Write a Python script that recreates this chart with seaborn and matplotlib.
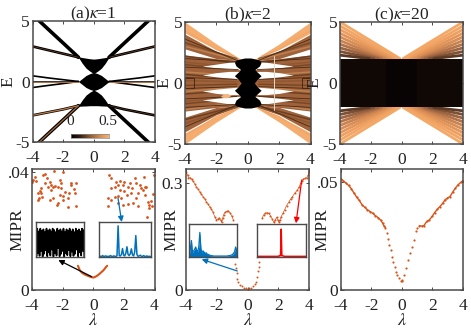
import matplotlib
matplotlib.use("Agg")
import matplotlib.pyplot as plt
import numpy as np
import seaborn as sns
from matplotlib.colors import LinearSegmentedColormap

# ── data ─────────────────────────────────────────────────────────────────────
LAM_TICKS = [-4, -2, 0, 2, 4]
E_TICKS = [-5, 0, 5]

# (a) kappa=1, bands on the right half, mirrored for the left one
A_KNOTS = [1, 2, 3, 4]
A_OUTER_UP = [2.0, 3.18, 4.35, 5.53]
A_OUTER_DN = [-2.0, -3.18, -4.35, -5.53]
A_SIDE_UP = [2.0, 2.3, 2.6, 2.9]
A_SIDE_DN = [-2.0, -2.3, -2.55, -2.8]
A_MID_UP = [0.0, 0.15, 0.3, 0.47]
A_MID_0 = [0.0, 0.0, 0.0, 0.0]
A_MID_DN = [0.0, -0.17, -0.33, -0.5]
A_BLOB_LAM = [0.0, 0.25, 0.5, 0.75, 1.0]
A_TOP_HI = [1.85, 1.88, 1.93, 1.98, 2.05]
A_TOP_LO = [0.65, 0.85, 1.1, 1.5, 2.0]
A_MID_HI = [0.75, 0.65, 0.5, 0.25, 0.0]
A_BOT_HI = [-0.7, -0.88, -1.12, -1.52, -2.0]
A_BOT_LO = [-2.0, -2.0, -2.02, -2.03, -2.05]

# (b) kappa=2
B_KNOTS = [0.5, 1, 2, 3, 4]
B_LIGHT_HI = [2.0, 2.4, 3.2, 4.1, 5.0]
B_LIGHT_LO = [1.9, 2.2, 2.75, 3.4, 4.1]
B_BROWN_HI = [1.9, 2.15, 2.6, 3.3, 4.0]
B_BROWN_LO = [1.8, 1.9, 2.0, 2.4, 2.8]
B_MAIN_HI = [1.8, 1.9, 2.0, 2.15, 2.3]
B_LENS_LAM = [0.7, 1.2, 2.0, 2.9]
B_LENS1_HI = [1.72, 1.7, 1.55, 1.38]
B_LENS1_LO = [1.1, 1.15, 1.25, 1.38]
B_LENS2_HI = [0.95, 0.95, 0.85, 0.65]
B_LENS2_LO = [0.35, 0.4, 0.5, 0.65]
B_CORE_E = [0.0, 0.3, 0.6, 0.9, 1.1, 1.4, 1.7, 1.9, 2.05]
B_CORE_W = [0.42, 0.6, 0.85, 0.6, 0.45, 0.75, 0.85, 0.7, 0.2]
B_SHADE_FROM = [2.0, 1.9, 1.6, 1.3, 1.1, 0.6, 0.35, 0.1, -0.1, -0.35, -0.6, -1.1, -1.3, -1.6, -1.9, -2.0]
B_SHADE_ENDS = [3.3, 3.0, 2.2, 1.7, 1.5, 0.9, 0.7, 0.2, -0.2, -0.7, -0.9, -1.5, -1.7, -2.2, -3.0, -3.3]
B_SHADE_COLORS = ["#6f4222", "#c58a58", "#5f381c", "#8a5530"]
B_DARK_STARTS = [0.6, 0.6, 0.6, 0.7, 0.7, 0.7, 0.7, 0.7]
B_DARK_ENDS = [3.6, 2.0, 1.3, 0.45, -0.45, -1.3, -2.0, -3.6]
B_DARK_FROM = [1.8, 1.75, 1.1, 0.3, -0.3, -1.1, -1.75, -1.8]
B_BOX_LAM = [3.45, 4.0, 4.0, 3.45, 3.45]
B_BOX_E = [0.4, 0.4, -0.4, -0.4, 0.4]
B_STRIPE_LAM = [0.9, 2.0, 3.0, 3.95]
B_STRIPE_E = [2.2, 2.75, 3.55, 4.25]
B_PALE_X = [1.7, 1.7]
B_PALE_E = [-2.25, 2.25]
B_SPOT_LAM = [-1.75, -1.55, -1.3, -1.05]
B_SPOT_HI = [-1.1, -0.9, -0.85, -1.0]
B_SPOT_LO = [-1.1, -1.2, -1.2, -1.0]

# (c) kappa=20
C_BAND_LAM = [-4, 4]
C_CORE_LAM = [-1, 1]
C_FAN_ENDS = [5.0, 4.68, 4.38, 4.08, 3.78, 3.48, 3.18, 2.88, 2.58, 2.28]
C_FAN_STARTS = [0.1, 0.3, 0.5, 0.7, 0.9, 1.1, 1.3, 1.5, 1.8, 2.1]
C_FAN_COLORS = ["#f4a866", "#f2a564", "#ee9f60", "#e2965a", "#d98e55",
                "#c98250", "#b57448", "#9c6440", "#7d5034", "#5c3a26"]

# MIPR panels
A_LEFT_X = [-3.93, -4.0, -3.83, -3.72, -3.28, -3.13, -2.59, -1.98, -3.0, -2.85, -2.74, -2.52,
            -2.2, -2.09, -2.3, -1.43, -1.11, -1.28, -1.59, -1.22, -3.61, -3.39, -3.54, -3.33,
            -3.61, -2.85, -2.63, -2.3, -1.98, -1.65, -2.37, -1.65, -1.15, -3.17, -2.96, -2.63,
            -2.09, -1.87, -1.43, -3.5, -2.2, -1.98, -2.74, -3.39]
A_LEFT_Y = [.0373, .0367, .0384, .0370, .0390, .0393, .0403, .0401, .0379, .0367, .0356, .0354,
            .0373, .0362, .0350, .0362, .0362, .0342, .0328, .0328, .0328, .0328, .0311, .0316,
            .0305, .0305, .0311, .0294, .0305, .0311, .0288, .0280, .0286, .0362, .0350, .0350,
            .0345, .0333, .0356, .0336, .0322, .0318, .0338, .0345]
A_RIGHT_X = [1.02, 1.17, 1.5, 1.72, 2.04, 2.7, 3.3, 3.96, 1.17, 1.39, 1.61, 1.93, 2.26, 2.41,
             2.8, 3.13, 3.46, .96, 1.39, 1.61, 1.83, 2.22, 2.48, 2.91, 3.24, 3.41, .96, 1.61,
             2.26, 2.59, 2.91, 1.93, 3.57, 3.67, 3.85, 3.52, 3.89, 3.35, 2.76, 1.17, 3.67, 1.72,
             2.04, 3.05, 2.55, 3.75]
A_RIGHT_Y = [.0388, .0379, .0367, .0370, .0367, .0379, .0384, .0390, .0347, .0350, .0356, .0356,
             .0350, .0362, .0362, .0347, .0350, .0311, .0316, .0320, .0311, .0322, .0328, .0328,
             .0339, .0350, .0283, .0294, .0290, .0294, .0283, .0288, .0299, .0288, .0283, .0249,
             .0324, .0322, .0311, .0305, .0279, .0338, .0335, .0355, .0345, .0300]
A_DIP_X = [-1.0, -.95, -.89, -.8, -.7, -.57, -.45, -.3, -.15, 0, .15, .3, .42, .52, .65, .75, .85, .91]
A_DIP_Y = [.0082, .0076, .0068, .0062, .0057, .0053, .0050, .0047, .0044, .0042, .0045, .0050,
           .0055, .0060, .0066, .0072, .0079, .0082]

B_X = [-3.99, -3.9, -3.84, -3.73, -3.64, -3.55, -3.44, -3.33, -3.22, -3.11, -3.0, -2.89, -2.78,
       -2.68, -2.57, -2.46, -2.35, -2.24, -2.13, -2.02, -1.93, -1.84, -1.75, -1.69, -1.62, -1.56,
       -1.47, -1.36, -1.25, -1.14, -1.03, -.92, -.79, -.75, -.7, -.66, -.59, -.48, -.37, -.26,
       -.13, 0, .13, .26, .39, .5, .57, .64, .68, .72, .77, .94, 1.05, 1.16, 1.27, 1.38, 1.49,
       1.6, 1.71, 1.8, 1.89, 1.97, 2.04, 2.11, 2.19, 2.3, 2.41, 2.54, 2.7, 2.81, 2.92, 3.07,
       3.25, 3.36, 3.46, 3.57, 3.64, 3.75, 3.86, 3.95, 4.0]
B_Y = [.331, .323, .316, .316, .311, .306, .299, .290, .284, .276, .269, .262, .256, .248, .241,
       .234, .227, .218, .206, .197, .200, .203, .197, .190, .201, .211, .218, .221, .222, .217,
       .209, .197, .074, .061, .047, .031, .022, .014, .010, .007, .005, .004, .005, .007, .010,
       .016, .023, .037, .052, .066, .080, .201, .211, .216, .217, .216, .209, .200, .190, .197,
       .204, .197, .190, .197, .206, .215, .225, .237, .248, .256, .262, .272, .281, .290, .300,
       .307, .312, .314, .316, .323, .331]

C_X = [-4, -3.83, -3.65, -3.48, -3.3, -3.13, -2.95, -2.78, -2.6, -2.43, -2.25, -2.08, -1.9, -1.73,
       -1.55, -1.38, -1.25, -1.16, -1.07, -.98, -.9, -.81, -.72, -.63, -.55, -.46, -.37, -.28,
       -.15, -.04, 0, .04, .15, .28, .42, .55, .68, .81, .94, 1.03, 1.16, 1.31, 1.46, 1.64, 1.81,
       1.99, 2.16, 2.34, 2.51, 2.69, 2.84, 3.0, 3.17, 3.34, 3.52, 3.69, 3.87, 4.0]
C_Y = [.0513, .0504, .0493, .0482, .0467, .0447, .0428, .0413, .0393, .0382, .0370, .0362, .0354,
       .0343, .0334, .0322, .0308, .0296, .0288, .0262, .0236, .0208, .0185, .0154, .0131, .0108,
       .0085, .0069, .0054, .0043, .0042, .0046, .0069, .0100, .0139, .0169, .0200, .0231, .0270,
       .0285, .0297, .0294, .0297, .0316, .0323, .0339, .0357, .0373, .0385, .0400, .0416, .0424,
       .0431, .0451, .0470, .0485, .0496, .0504]

# inset spectra
INSET_BLACK_TOP = [.78, .82, .74, .82, .76, .8, .72, .82, .75, .8, .74, .82, .78, .72, .82, .76,
                   .8, .74, .82, .72, .8, .76, .82, .74, .8, .72, .82, .76, .8, .74, .82, .78]
INSET_BLACK_LOW = [.03, .12, .04, .18, .02, .1, .2, .03, .14, .05, .22, .02, .12, .05, .26, .03,
                   .1, .18, .02, .12, .06, .2, .03, .16, .04, .1, .22, .03, .14, .05, .18, .02]
INSET_BLUE_A = [.02, .03, .02, .05, .02, .03, .04, .02, .03, .02, .05, .03, .02, .04, .03, .02,
                .05, .9, .05, .04, .08, .25, .06, .04, .12, .3, .08, .05, .1, .24, .07, .04,
                .15, .62, .08, .03, .04, .06, .03, .02, .05, .03, .02, .04, .02, .03, .02, .02]
INSET_BLUE_B = [.05, .25, .5, .12, .18, .22, .3, .2, .16, .3, .75, .25, .12, .18, .14, .1, .12,
                .08, .07, .05, .04, .03, .03, .02, .02, .02, .02, .02, .02, .02, .02, .02, .02,
                .02, .02, .02, .02, .03, .03, .04, .05, .07, .1, .16, .3, .18]
INSET_RED = [.01, .01, .01, .01, .01, .01, .01, .01, .01, .01, .01, .01, .01, .01, .01, .01, .01,
             .01, .01, .01, .01, .01, .01, .01, .01, .01, .01, .01, .01, .01, .01, .01, .01, .01,
             .02, .02, .03, .03, .85, .03, .03, .02, .02, .01, .01, .01, .01, .01, .01, .01, .01,
             .01, .01, .01, .01, .01, .01, .01, .01, .01, .01, .01, .01, .01, .01, .01, .01, .01,
             .01, .01, .01, .01, .01, .01, .01, .01, .01]

CBAR_COLORS = ["#000000", "#3a2212", "#8c5a36", "#d08a50", "#f8b070"]

ORANGE = "#d95319"
BLUE = "#0072bd"
RED = "#ff0000"
FRAME = "#4a4a4a"
W, H = 471, 330

sns.set_theme(style="ticks")
plt.rcParams["font.family"] = ["Liberation Serif", "DejaVu Serif"]
plt.rcParams["mathtext.fontset"] = "stix"
plt.rcParams["axes.unicode_minus"] = False

fig = plt.figure(figsize=(W / 100, H / 100), dpi=100)


def px_axes(x0, y0, x1, y1):
    # axes from pixel box, y measured from the top of the image
    return fig.add_axes([x0 / W, 1 - y1 / H, (x1 - x0) / W, (y1 - y0) / H])


def line(ax, x, y, color, lw, **kw):
    sns.lineplot(x=list(x), y=list(y), ax=ax, color=color, linewidth=lw, sort=False,
                 estimator=None, legend=False, **kw)


def mirror(knots, vals):
    return [-k for k in knots[::-1]] + list(knots), list(vals[::-1]) + list(vals)


def style_axes(ax, ylim, yticks, yticklabels, ylabel, ylab_x, title=None, xlabel=None):
    ax.set_xlim(-4, 4)
    ax.set_ylim(*ylim)
    ax.set_xticks(LAM_TICKS)
    ax.set_xticklabels([str(t) for t in LAM_TICKS])
    ax.set_yticks(yticks)
    ax.set_yticklabels(yticklabels)
    ax.tick_params(direction="in", top=True, right=True, length=2.5, width=0.7, color=FRAME,
                   labelsize=12.5, labelcolor="#222222")
    ax.tick_params(axis="x", pad=5.5)
    ax.tick_params(axis="y", pad=2)
    for s in ax.spines.values():
        s.set_color(FRAME)
        s.set_linewidth(1.1)
        s.set_zorder(10)
    ax.set_ylabel(ylabel, fontsize=12.5, color="#222222")
    ax.yaxis.set_label_coords(ylab_x, 0.5)
    ax.set_xlabel(xlabel if xlabel else "", fontsize=13, color="#222222", labelpad=-1.5)
    if title:
        ax.set_title(title, fontsize=12.5, pad=2, color="#222222")


# ── (a) bands ────────────────────────────────────────────────────────────────
ax = px_axes(32.5, 21, 155, 142)
for vals, lw in [(A_OUTER_UP, 2.6), (A_OUTER_DN, 2.6), (A_SIDE_UP, 1.9), (A_SIDE_DN, 1.9),
                 (A_MID_UP, 1.2), (A_MID_0, 1.1), (A_MID_DN, 1.2)]:
    for sign in (1, -1):
        line(ax, [sign * k for k in A_KNOTS], vals, "black", lw)
# copper streaks along the band edges
for sign in (1, -1):
    line(ax, [sign * k for k in A_KNOTS], A_MID_0, "#b5733f", 0.7)
    line(ax, [sign * k for k in A_KNOTS], A_SIDE_UP, "#6a4026", 0.5)
line(ax, [-k for k in A_KNOTS], A_SIDE_DN, "#c07a45", 0.9)
line(ax, [-k for k in A_KNOTS], A_OUTER_DN, "#a5693d", 0.9)
line(ax, [k for k in A_KNOTS], A_SIDE_DN, "#5a3620", 0.5)
for hi, lo in [(A_TOP_HI, A_TOP_LO), (A_MID_HI, [-v for v in A_MID_HI]), (A_BOT_HI, A_BOT_LO)]:
    xs, his = mirror(A_BLOB_LAM, hi)
    _, los = mirror(A_BLOB_LAM, lo)
    ax.fill_between(xs, los, his, color="black", lw=0)
style_axes(ax, (-5, 5), E_TICKS, ["-5", "0", "5"], "E", -0.135, title=r"(a)$\kappa$=1")

cax = px_axes(71, 134, 109, 138)
cmap = LinearSegmentedColormap.from_list("band", CBAR_COLORS)
sns.heatmap(np.linspace(0, 1, 64)[None, :], ax=cax, cmap=cmap, cbar=False, xticklabels=False,
            yticklabels=False)
for s in cax.spines.values():
    s.set_visible(True)
    s.set_color("#888888")
    s.set_linewidth(0.5)
ax.text(-1.55, -3.28, "0", fontsize=11, ha="center", va="center", color="#222222")
ax.text(0.95, -3.28, "0.5", fontsize=11, ha="center", va="center", color="#222222")

# ── (b) bands ────────────────────────────────────────────────────────────────
ax = px_axes(185, 22, 310.5, 144)
BROWN = "#a0623a"
for hi, lo, col in [(B_LIGHT_HI, B_LIGHT_LO, "#f4ad6e"), (B_BROWN_HI, B_BROWN_LO, BROWN)]:
    xs, his = mirror(B_KNOTS, hi)
    _, los = mirror(B_KNOTS, lo)
    ax.fill_between(xs, los, his, color=col, lw=0)
    ax.fill_between(xs, [-v for v in his], [-v for v in los], color=col, lw=0)
xs, his = mirror(B_KNOTS, B_MAIN_HI)
ax.fill_between(xs, [-v for v in his], his, color=BROWN, lw=0)
for sign in (1, -1):
    for i, (a, b) in enumerate(zip(B_SHADE_FROM, B_SHADE_ENDS)):
        line(ax, [sign * 0.7, sign * 4], [a, b], B_SHADE_COLORS[i % 4], 1.1, alpha=0.8)
for hi, lo in [(B_LENS1_HI, B_LENS1_LO), (B_LENS2_HI, B_LENS2_LO)]:
    xs, his = mirror(B_LENS_LAM, hi)
    _, los = mirror(B_LENS_LAM, lo)
    ax.fill_between(xs, los, his, color="white", lw=0, zorder=3)
    ax.fill_between(xs, [-v for v in his], [-v for v in los], color="white", lw=0, zorder=3)
for sign in (1, -1):
    for s, a, b in zip(B_DARK_STARTS, B_DARK_FROM, B_DARK_ENDS):
        line(ax, [sign * s, sign * 4], [a, b], "#4a2a14", 0.6, zorder=4)
    line(ax, [sign * v for v in B_BOX_LAM], B_BOX_E, "#4a2a14", 0.7, zorder=4)
    line(ax, [sign * v for v in B_STRIPE_LAM], B_STRIPE_E, "#f2a566", 0.9, zorder=4)
    line(ax, [sign * v for v in B_STRIPE_LAM], [-v for v in B_STRIPE_E], "#f2a566", 0.9, zorder=4)
ax.fill_between(B_SPOT_LAM, B_SPOT_LO, B_SPOT_HI, color="#f4b57e", lw=0, zorder=4)
line(ax, B_PALE_X, B_PALE_E, "#e6d8c8", 0.7, zorder=4)
core_e = [-v for v in B_CORE_E[::-1]] + B_CORE_E[1:]
core_w = B_CORE_W[::-1] + B_CORE_W[1:]
ax.fill_betweenx(core_e, [-v for v in core_w], core_w, color="black", lw=0, zorder=5)
style_axes(ax, (-5, 5), E_TICKS, ["-5", "0", "5"], "E", -0.1, title=r"(b)$\kappa$=2")

# ── (c) bands ────────────────────────────────────────────────────────────────
ax = px_axes(340, 22, 463, 144)
for sign in (1, -1):
    for end, start, col in zip(C_FAN_ENDS, C_FAN_STARTS, C_FAN_COLORS):
        line(ax, [sign * start, sign * 4], [2.0, end], col, 2.0)
        line(ax, [sign * start, sign * 4], [-2.0, -end], col, 2.0)
ax.fill_between(C_BAND_LAM, [-2, -2], [2, 2], color="#0f0805", lw=0, zorder=5)
ax.fill_between(C_CORE_LAM, [-2, -2], [2, 2], color="#080403", lw=0, zorder=5)
style_axes(ax, (-5, 5), E_TICKS, ["-5", "0", "5"], "E", -0.145, title=r"(c)$\kappa$=20")

# ── MIPR (a) ─────────────────────────────────────────────────────────────────
ax = px_axes(32, 169, 154.5, 290)
sns.scatterplot(x=A_LEFT_X + A_RIGHT_X, y=A_LEFT_Y + A_RIGHT_Y, ax=ax, color=ORANGE, s=4, lw=0,
                legend=False)
line(ax, A_DIP_X, A_DIP_Y, ORANGE, 1.5)
style_axes(ax, (0, 0.041), [0, 0.04], ["0", ".04"], "MIPR", -0.05, xlabel=r"$\lambda$")

# ── MIPR (b) ─────────────────────────────────────────────────────────────────
ax = px_axes(186, 169, 309, 290)
sns.scatterplot(x=B_X, y=B_Y, ax=ax, color=ORANGE, s=2, lw=0, legend=False)
line(ax, B_X[:32], B_Y[:32], ORANGE, 0.5)
line(ax, B_X[51:], B_Y[51:], ORANGE, 0.5)
style_axes(ax, (0, 0.34), [0, 0.3], ["0", "0.3"], "MIPR", -0.057, xlabel=r"$\lambda$")

# ── MIPR (c) ─────────────────────────────────────────────────────────────────
ax = px_axes(340.7, 169, 462.7, 290)
sns.scatterplot(x=C_X, y=C_Y, ax=ax, color=ORANGE, s=2.5, lw=0, legend=False)
line(ax, C_X[:19], C_Y[:19], ORANGE, 1.0)
line(ax, C_X[40:], C_Y[40:], ORANGE, 1.0)
style_axes(ax, (0, 0.0558), [0, 0.05], ["0", ".05"], "MIPR", -0.08, xlabel=r"$\lambda$")


# ── insets ───────────────────────────────────────────────────────────────────
def inset(box, vals, color, lw, ylim=(0, 1)):
    iax = px_axes(*box)
    line(iax, range(len(vals)), vals, color, lw)
    iax.set_xlim(0, len(vals) - 1)
    iax.set_ylim(*ylim)
    iax.set_xticks([])
    iax.set_yticks([])
    iax.set_xlabel("")
    iax.set_ylabel("")
    iax.set_zorder(5)
    for s in iax.spines.values():
        s.set_color(FRAME)
        s.set_linewidth(1.0)
    return iax


zigzag = [v for pair in zip(INSET_BLACK_TOP, INSET_BLACK_LOW) for v in pair]
inset((35.7, 222.3, 84.3, 257.3), zigzag, "black", 1.2)
inset((99.3, 222.3, 151.3, 257.3), INSET_BLUE_A, BLUE, 1.1)
iax = inset((189.3, 224.3, 236.7, 256.7), INSET_BLUE_B, BLUE, 0.9)
iax.fill_between(range(len(INSET_BLUE_B)), 0, INSET_BLUE_B, color=BLUE, lw=0)
inset((256.7, 224.3, 305.7, 256.7), INSET_RED, RED, 1.1)


def arrow(tip, tail, color):
    fig.add_artist(matplotlib.patches.FancyArrowPatch(
        (tail[0] / W, 1 - tail[1] / H), (tip[0] / W, 1 - tip[1] / H),
        transform=fig.transFigure, arrowstyle="-|>", mutation_scale=8, color=color, lw=0.9,
        shrinkA=0, shrinkB=0, zorder=20))


arrow((58.3, 260), (91.7, 276.7), "black")
arrow((121.7, 222), (118, 198), BLUE)
arrow((201.7, 259.3), (237.3, 271), BLUE)
arrow((296, 223.3), (301.7, 180), RED)

fig.savefig("out.png", dpi=100)
